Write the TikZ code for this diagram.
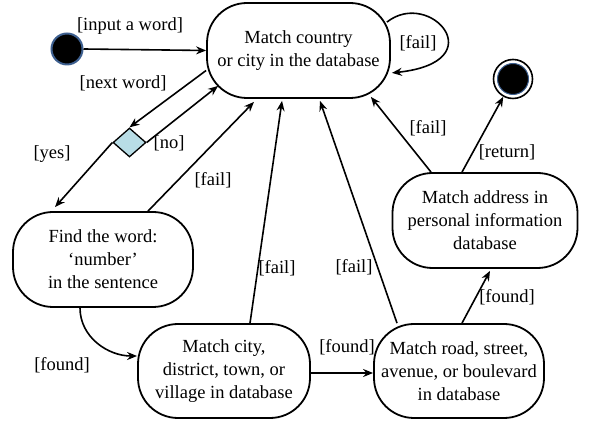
\documentclass[tikz,border=0pt]{standalone}
\usepackage{fontspec}
\setmainfont{Liberation Serif}
\usetikzlibrary{arrows.meta,shapes.geometric}
\definecolor{ringblue}{HTML}{3D5F8F}
\definecolor{gatefill}{HTML}{B8DDE6}
\begin{document}
\begin{tikzpicture}[x=1pt,y=1pt,
  state/.style={draw,line width=1.8pt,rounded corners=40pt,align=center,
    inner sep=0pt,font=\fontsize{18.5}{23}\selectfont},
  flow/.style={line width=1.6pt,-{Stealth[length=10pt,width=8pt]}},
  lbl/.style={font=\fontsize{18.5}{22}\selectfont,inner sep=1pt},
  gate/.style={diamond,draw,fill=gatefill,line width=1.3pt,inner sep=0pt,
    minimum width=33pt,minimum height=29pt}]
\useasboundingbox (0,0) rectangle (591,420);

% states
\node[state,minimum width=183pt,minimum height=95pt] (top) at (298.5,369.5)
  {Match country\\or city in the database};
\node[state,minimum width=180pt,minimum height=95pt] (find) at (103,160.5)
  {Find the word:\\‘number’\\in the sentence};
\node[state,minimum width=172pt,minimum height=94pt] (city) at (224,49)
  {Match city,\\district, town, or\\village in database};
\node[state,minimum width=170pt,minimum height=94pt] (road) at (459,49)
  {Match road, street,\\avenue, or boulevard\\in database};
\node[state,minimum width=185pt,minimum height=95pt] (addr) at (485,199.5)
  {Match address in\\personal information\\database};

% initial and final states, decision
\node[circle,fill=black,draw=ringblue,line width=2pt,minimum size=31pt,inner sep=0pt] (start) at (67,371) {};
\node[circle,draw=black,line width=1.6pt,minimum size=39pt,inner sep=0pt] (end) at (513,341) {};
\node[circle,fill=black,draw=ringblue,line width=1pt,minimum size=31pt,inner sep=0pt] (endcore) at (513,341) {};
\node[gate] (gate) at (129.5,277.5) {};

% transitions
\draw[flow] (start.east) -- (top.west);
\node[lbl] (l1) at (130,394) {[input a word]};

\draw[flow] ([yshift=-20pt]top.west) -- (gate.north);
\node[lbl] (l2) at (123,337) {[next word]};

\draw[flow] (gate.east) -- ([shift={(12pt,13pt)}]top.south west);
\node[lbl] (l3) at (169,277) {[no]};

\draw[flow] (gate.west) -- ([xshift=-48pt,yshift=4pt]find.north);
\node[lbl] (l4) at (52,266) {[yes]};

\draw[flow] ([xshift=45pt]find.north) -- ([xshift=-44.5pt,yshift=-3pt]top.south);
\node[lbl] (l5) at (213,240) {[fail]};

\draw[flow] ([xshift=-23pt]find.south) to[out=-90,in=180] ([yshift=15pt]city.west);
\node[lbl] (l6) at (62,55) {[found]};

\draw[flow] ([xshift=26pt]city.north) -- ([xshift=-16.5pt,yshift=-2pt]top.south);
\node[lbl] (l7) at (277,152) {[fail]};

\draw[flow] ([xshift=-62pt]road.north) -- ([xshift=21.5pt,yshift=-2pt]top.south);
\node[lbl] (l8) at (354,153) {[fail]};

\draw[flow] ([yshift=-2pt]city.east) -- ([yshift=-2pt]road.west);
\node[lbl] (l9) at (347,73) {[found]};

\draw[flow] ([xshift=3pt]road.north) -- ([xshift=5pt,yshift=-2pt]addr.south);
\node[lbl] (l10) at (507,123) {[found]};

\draw[flow] ([xshift=-54pt]addr.north) -- ([shift={(-20pt,2pt)}]top.south east);
\node[lbl] (l11) at (428,292) {[fail]};

\draw[flow] ([xshift=-23pt]addr.north) -- (end);
\node[lbl] (l12) at (507,268) {[return]};

\draw[flow] ([shift={(-4pt,-20pt)}]top.north east) .. controls (430,432) and (495,358) .. ([shift={(1pt,26pt)}]top.south east);
\node[lbl] (l13) at (418,377) {[fail]};
\end{tikzpicture}
\end{document}
